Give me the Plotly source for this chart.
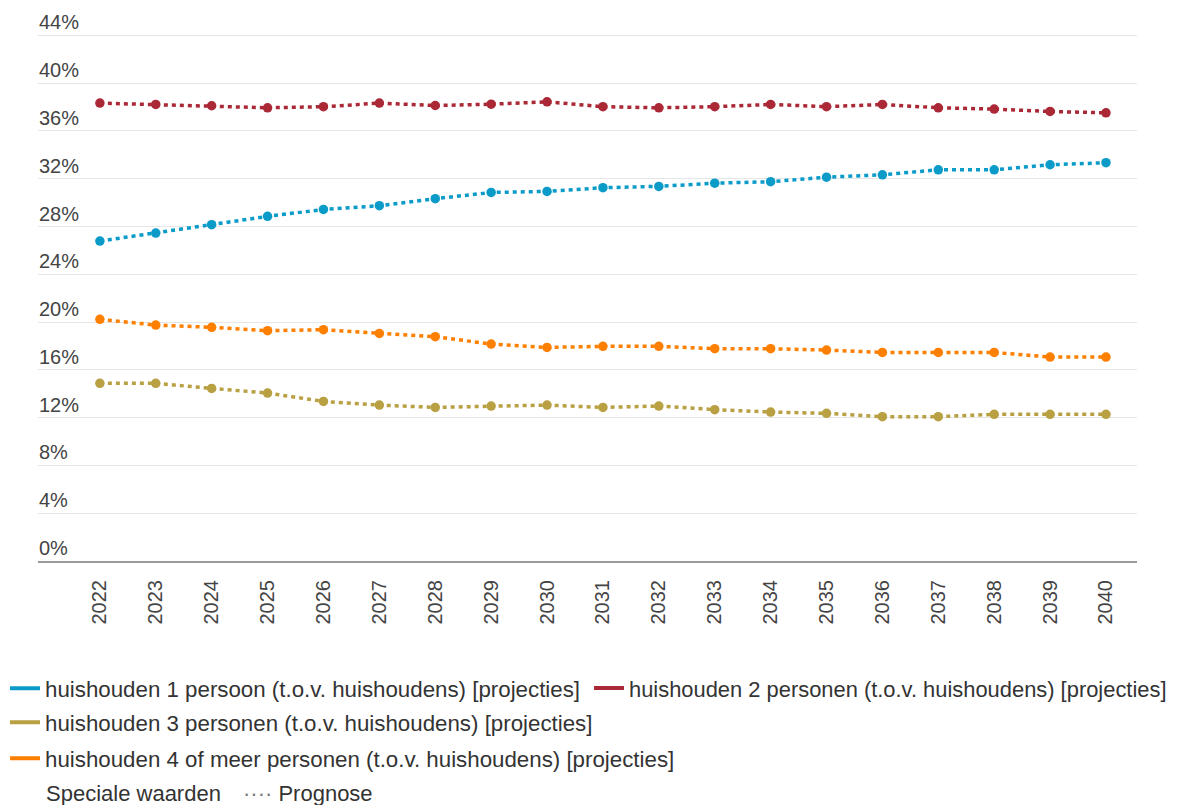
import plotly.graph_objects as go

years = list(range(2022, 2041))

een_persoon = [26.78, 27.45, 28.15, 28.85, 29.43, 29.74, 30.33, 30.85, 30.94, 31.25,
               31.36, 31.63, 31.75, 32.13, 32.33, 32.75, 32.75, 33.17, 33.34]
twee_personen = [38.33, 38.22, 38.11, 37.94, 38.03, 38.33, 38.13, 38.24, 38.44, 38.03,
                 37.94, 38.03, 38.22, 38.03, 38.22, 37.94, 37.83, 37.63, 37.52]
drie_personen = [14.87, 14.87, 14.45, 14.06, 13.36, 13.05, 12.86, 12.97, 13.05, 12.86,
                 12.97, 12.67, 12.47, 12.36, 12.08, 12.08, 12.28, 12.28, 12.28]
vier_plus = [20.23, 19.75, 19.56, 19.28, 19.36, 19.05, 18.78, 18.16, 17.88, 17.97,
             17.97, 17.77, 17.77, 17.66, 17.46, 17.46, 17.46, 17.07, 17.07]

names = [
    "huishouden 1 persoon (t.o.v. huishoudens) [projecties]",
    "huishouden 2 personen (t.o.v. huishoudens) [projecties]",
    "huishouden 3 personen (t.o.v. huishoudens) [projecties]",
    "huishouden 4 of meer personen (t.o.v. huishoudens) [projecties]",
]
series = [een_persoon, twee_personen, drie_personen, vier_plus]
colors = ["#0a9bc9", "#ab2836", "#b8a043", "#ff7f00"]

y_ticks = list(range(0, 45, 4))
y_ticktext = [f"{v}%" for v in y_ticks]
Y_MAX = 44.2

FONT = "Liberation Sans, Arial, sans-serif"

# figure geometry (page has an 8px body margin)
W, H = 1173, 797
ML, MR, MT, MB = 30, 44, 24.5, 244.3
PW, PH = W - ML - MR, H - MT - MB


def px_x(x):
    return (x - ML) / PW


def px_y(y):
    return (MT + PH - y) / PH


fig = go.Figure()
for name, vals, col in zip(names, series, colors):
    fig.add_trace(go.Scatter(
        x=years, y=vals, mode="lines+markers", name=name, showlegend=False,
        line=dict(color=col, width=3.5, dash="4px,4px"),
        marker=dict(color=col, size=9.5),
        hovertemplate="%{x}: %{y:.1f}%<extra></extra>",
    ))

legend_ids = ["legend", "legend2", "legend3", "legend4"]
for name, col, lg in zip(names, colors, legend_ids):
    fig.add_trace(go.Scatter(
        x=[None], y=[None], mode="lines", name=name, legend=lg,
        line=dict(color=col, width=4), showlegend=True,
    ))

# invisible overlay axis carrying the y tick labels inside the plot
fig.add_trace(go.Scatter(x=[None], y=[None], yaxis="y2", showlegend=False,
                         hoverinfo="skip"))


def leg(x, y, size=22.3):
    return dict(x=x, y=y, orientation="h", yanchor="middle", xanchor="left",
                font=dict(size=size, color="#333333"), itemwidth=30,
                bgcolor="rgba(0,0,0,0)")


legend_x_left = px_x(-3)
legend_x_right = px_x(581)

fig.update_layout(
    width=W, height=H,
    paper_bgcolor="white", plot_bgcolor="white",
    margin=dict(l=ML, r=MR, t=MT, b=MB, autoexpand=False),
    font=dict(family=FONT, color="#333333"),
    showlegend=True,
    legend=leg(legend_x_left, px_y(680)),
    legend2=leg(legend_x_right, px_y(680), 21.9),
    legend3=leg(legend_x_left, px_y(714)),
    legend4=leg(legend_x_left, px_y(750)),
    xaxis=dict(
        range=[2022 - 1.107, 2040 + 0.555],
        tickmode="array", tickvals=years, ticktext=[str(y) for y in years],
        tickangle=-90, tickfont=dict(size=20, color="#444444"),
        showgrid=False, zeroline=False,
        showline=True, linecolor="#9a9a9a", linewidth=2,
        ticks="", ticklabelstandoff=9,
    ),
    yaxis=dict(
        range=[0, Y_MAX],
        tickmode="array", tickvals=y_ticks,
        showticklabels=False,
        showgrid=True, gridcolor="#e6e6e6", gridwidth=1,
        zeroline=False, showline=False, ticks="",
    ),
    yaxis2=dict(
        range=[0, Y_MAX], overlaying="y", anchor="free", position=0, side="right",
        tickmode="array", tickvals=y_ticks, ticktext=y_ticktext,
        tickfont=dict(size=20, color="#444444"),
        ticklabelshift=-13, ticklabelstandoff=0,
        showgrid=False, zeroline=False, showline=False, ticks="",
    ),
    annotations=[
        dict(xref="paper", yref="paper", x=px_x(36), y=px_y(785),
             xanchor="left", yanchor="middle", showarrow=False,
             text="Speciale waarden", font=dict(size=22, color="#333333")),
        dict(xref="paper", yref="paper", x=px_x(233), y=px_y(785),
             xanchor="left", yanchor="middle", showarrow=False,
             text="<span style='color:#777777'>····</span> Prognose",
             font=dict(size=22, color="#333333")),
    ],
)

fig.write_html("out.html")
